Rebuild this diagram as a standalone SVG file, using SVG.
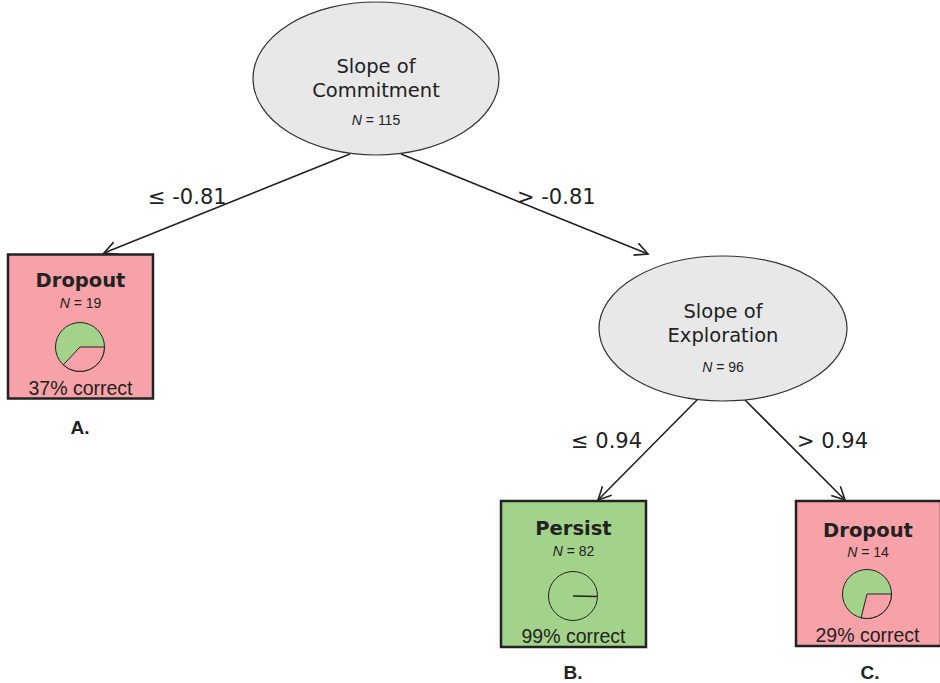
<svg xmlns="http://www.w3.org/2000/svg" width="940" height="683" viewBox="0 0 940 683">
<style>
.ell{fill:#e8e8e8;stroke:#333;stroke-width:1.2}
.lab{font-family:"DejaVu Sans",sans-serif;font-size:21px;fill:#222}
.title{font-family:"DejaVu Sans",sans-serif;font-size:19.5px;fill:#222;text-anchor:middle}
.bold{font-family:"DejaVu Sans",sans-serif;font-weight:bold;font-size:19.5px;fill:#222;text-anchor:middle}
.n{font-family:"Liberation Sans",Arial,sans-serif;font-size:14px;fill:#222;text-anchor:middle}
.pct{font-family:"Liberation Sans",Arial,sans-serif;font-size:19.5px;fill:#222;text-anchor:middle}
.let{font-family:"Liberation Sans",Arial,sans-serif;font-weight:bold;font-size:19px;fill:#222;text-anchor:middle}
.pink{fill:#f7a2a8}
.green{fill:#a3d38a}
.box{stroke:#222;stroke-width:2.5}
.pie{stroke:#222;stroke-width:1}
.edge{fill:none;stroke:#222;stroke-width:1.6}
</style>
<defs>
<marker id="arr" markerUnits="userSpaceOnUse" markerWidth="20" markerHeight="20" refX="14" refY="7" orient="auto">
<path d="M1,0.5 L14,7 L1,13.5" fill="none" stroke="#222" stroke-width="1.6"/>
</marker>
</defs>
<g id="connectors">
<line class="edge" x1="350" y1="154" x2="104" y2="253" marker-end="url(#arr)"/>
<line class="edge" x1="401" y1="154" x2="648" y2="254" marker-end="url(#arr)"/>
<line class="edge" x1="697" y1="400" x2="598" y2="500" marker-end="url(#arr)"/>
<line class="edge" x1="745" y1="400" x2="845" y2="500" marker-end="url(#arr)"/>
<text class="lab" x="148" y="204">≤ -0.81</text>
<text class="lab" x="517" y="204">&gt; -0.81</text>
<text class="lab" x="571" y="448">≤ 0.94</text>
<text class="lab" x="797" y="448">&gt; 0.94</text>
</g>
<g id="node-commitment">
<ellipse class="ell" cx="376" cy="78.5" rx="123" ry="76.5"/>
<text class="title" x="376" y="73">Slope of</text>
<text class="title" x="376" y="97">Commitment</text>
<text class="n" x="376" y="125"><tspan font-style="italic">N</tspan> = 115</text>
</g>
<g id="node-exploration">
<ellipse class="ell" cx="723" cy="328.5" rx="124" ry="72.5"/>
<text class="title" x="723" y="318">Slope of</text>
<text class="title" x="723" y="342">Exploration</text>
<text class="n" x="723" y="372"><tspan font-style="italic">N</tspan> = 96</text>
</g>
<g id="leaf-a">
<rect class="box pink" x="8" y="254.5" width="145" height="144"/>
<text class="bold" x="80.5" y="287">Dropout</text>
<text class="n" x="80.5" y="308"><tspan font-style="italic">N</tspan> = 19</text>
<circle class="pie green" cx="80" cy="347" r="24.5"/>
<path class="pie pink" d="M80,347 L104.5,347 A24.5,24.5 0 0 1 63.3,364.9 Z"/>
<text class="pct" x="80.5" y="395">37% correct</text>
<text class="let" x="80" y="434">A.</text>
</g>
<g id="leaf-b">
<rect class="box green" x="501" y="501" width="145" height="146"/>
<text class="bold" x="573.5" y="535">Persist</text>
<text class="n" x="573.5" y="556"><tspan font-style="italic">N</tspan> = 82</text>
<circle class="pie green" cx="573" cy="596" r="24.5"/>
<path class="pink" d="M573,596 L597.5,596 A24.5,24.5 0 0 1 597.45,597.5 Z"/>
<line x1="573" y1="596" x2="597.5" y2="596.5" stroke="#222" stroke-width="1.6"/>
<text class="pct" x="573.5" y="643">99% correct</text>
<text class="let" x="573" y="679">B.</text>
</g>
<g id="leaf-c">
<rect class="box pink" x="796" y="501" width="145" height="145"/>
<text class="bold" x="868" y="537">Dropout</text>
<text class="n" x="868" y="557"><tspan font-style="italic">N</tspan> = 14</text>
<circle class="pie green" cx="867" cy="594" r="24.5"/>
<path class="pie pink" d="M867,594 L891.5,594 A24.5,24.5 0 0 1 861.1,617.8 Z"/>
<text class="pct" x="867.5" y="642">29% correct</text>
<text class="let" x="870" y="679">C.</text>
</g>
</svg>
